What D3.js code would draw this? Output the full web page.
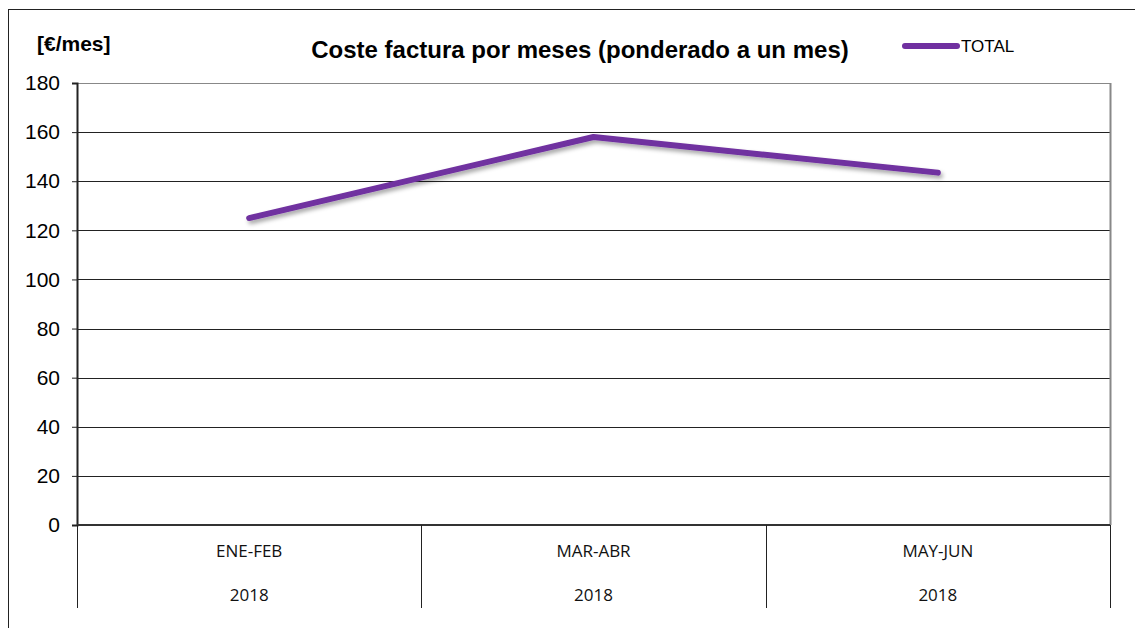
<!DOCTYPE html>
<html lang="es">
<head>
  <meta charset="UTF-8">
  <title>Coste factura por meses</title>
  <style>
    body { margin: 0; background: #fff; }
    svg { display: block; }
  </style>
</head>
<body>
  <svg id="chart" width="1135" height="628"></svg>

  <script src="https://d3js.org/d3.v7.min.js"></script>
  <script>
    // data
    const periods = ["ENE-FEB", "MAR-ABR", "MAY-JUN"];
    const years = ["2018", "2018", "2018"];
    const totals = [125, 158, 143.5];
    const yTicks = [0, 20, 40, 60, 80, 100, 120, 140, 160, 180];

    const svg = d3.select("#chart");
    const margin = { top: 83, right: 25, bottom: 103, left: 77 };
    const width = 1135 - margin.left - margin.right;
    const height = 628 - margin.top - margin.bottom;

    // shadow under the line
    const defs = svg.append("defs");
    const f = defs.append("filter").attr("id", "shadow")
      .attr("x", "-10%").attr("y", "-50%").attr("width", "120%").attr("height", "200%");
    f.append("feDropShadow")
      .attr("dx", 2).attr("dy", 3).attr("stdDeviation", 2)
      .attr("flood-color", "#000").attr("flood-opacity", 0.35);

    // outer frame (top and left only visible)
    svg.append("line").attr("x1", 8).attr("x2", 1135).attr("y1", 9.5).attr("y2", 9.5)
      .attr("stroke", "#222").attr("stroke-width", 1);
    svg.append("line").attr("x1", 8.5).attr("x2", 8.5).attr("y1", 9).attr("y2", 628)
      .attr("stroke", "#222").attr("stroke-width", 1);

    const g = svg.append("g").attr("transform", `translate(${margin.left}, ${margin.top})`);

    const x = d3.scaleBand().domain(periods).range([0, width]);
    const y = d3.scaleLinear().domain([0, 180]).range([height, 0]);

    // gridlines
    g.append("g")
      .selectAll("line")
      .data(yTicks.filter(d => d > 0))
      .enter()
      .append("line")
      .attr("x1", 0).attr("x2", width)
      .attr("y1", d => Math.round(y(d)) + 0.5)
      .attr("y2", d => Math.round(y(d)) + 0.5)
      .attr("stroke", d => d === 180 ? "#888" : "#222")
      .attr("stroke-width", 1);

    // right border of plot
    g.append("line")
      .attr("x1", width + 0.5).attr("x2", width + 0.5)
      .attr("y1", 0).attr("y2", height)
      .attr("stroke", "#888").attr("stroke-width", 2);

    // y axis
    const yAxis = g.append("g")
      .call(d3.axisLeft(y).tickValues(yTicks).tickSize(5).tickPadding(12));
    yAxis.select(".domain").attr("stroke", "#222").attr("stroke-width", 2);
    yAxis.selectAll(".tick line").attr("stroke", "#222");
    yAxis.selectAll("text")
      .attr("font-family", "Liberation Sans, Arial, sans-serif")
      .attr("font-size", 21)
      .attr("fill", "#000");

    // x baseline
    g.append("line")
      .attr("x1", 0).attr("x2", width)
      .attr("y1", height).attr("y2", height)
      .attr("stroke", "#333").attr("stroke-width", 2);

    // category separators
    const edges = periods.map(p => x(p)).concat([width]);
    g.append("g")
      .selectAll("line")
      .data(edges)
      .enter()
      .append("line")
      .attr("x1", d => Math.round(d) + 0.5).attr("x2", d => Math.round(d) + 0.5)
      .attr("y1", height).attr("y2", height + 83)
      .attr("stroke", "#222").attr("stroke-width", 1);

    // category labels (two rows)
    g.append("g")
      .selectAll("text")
      .data(periods)
      .enter()
      .append("text")
      .attr("x", d => x(d) + x.bandwidth() / 2)
      .attr("y", height + 32)
      .attr("text-anchor", "middle")
      .attr("font-family", "Open Sans, Lato, sans-serif")
      .attr("font-size", 17)
      .attr("fill", "#111")
      .text(d => d);

    g.append("g")
      .selectAll("text")
      .data(periods)
      .enter()
      .append("text")
      .attr("x", d => x(d) + x.bandwidth() / 2)
      .attr("y", height + 76)
      .attr("text-anchor", "middle")
      .attr("font-family", "Open Sans, Lato, sans-serif")
      .attr("font-size", 17)
      .attr("fill", "#111")
      .text((d, i) => years[i]);

    // line
    const line = d3.line()
      .x((d, i) => x(periods[i]) + x.bandwidth() / 2)
      .y(d => y(d));

    g.append("path")
      .datum(totals)
      .attr("d", line)
      .attr("fill", "none")
      .attr("stroke", "#7030A0")
      .attr("stroke-width", 6)
      .attr("stroke-linecap", "round")
      .attr("stroke-linejoin", "round")
      .attr("filter", "url(#shadow)");

    // title and unit label
    svg.append("text")
      .attr("x", 580).attr("y", 58)
      .attr("text-anchor", "middle")
      .attr("font-family", "Liberation Sans, Arial, sans-serif")
      .attr("font-weight", "bold")
      .attr("font-size", 24)
      .attr("fill", "#000")
      .text("Coste factura por meses (ponderado a un mes)");

    svg.append("text")
      .attr("x", 37).attr("y", 51)
      .attr("font-family", "Liberation Sans, Arial, sans-serif")
      .attr("font-weight", "bold")
      .attr("font-size", 21)
      .attr("fill", "#000")
      .text("[€/mes]");

    // legend
    svg.append("line")
      .attr("x1", 905).attr("x2", 957)
      .attr("y1", 46).attr("y2", 46)
      .attr("stroke", "#7030A0").attr("stroke-width", 6)
      .attr("stroke-linecap", "round");
    svg.append("text")
      .attr("x", 961).attr("y", 52)
      .attr("font-family", "Liberation Sans, Arial, sans-serif")
      .attr("font-size", 17)
      .attr("fill", "#000")
      .text("TOTAL");
  </script>
</body>
</html>
